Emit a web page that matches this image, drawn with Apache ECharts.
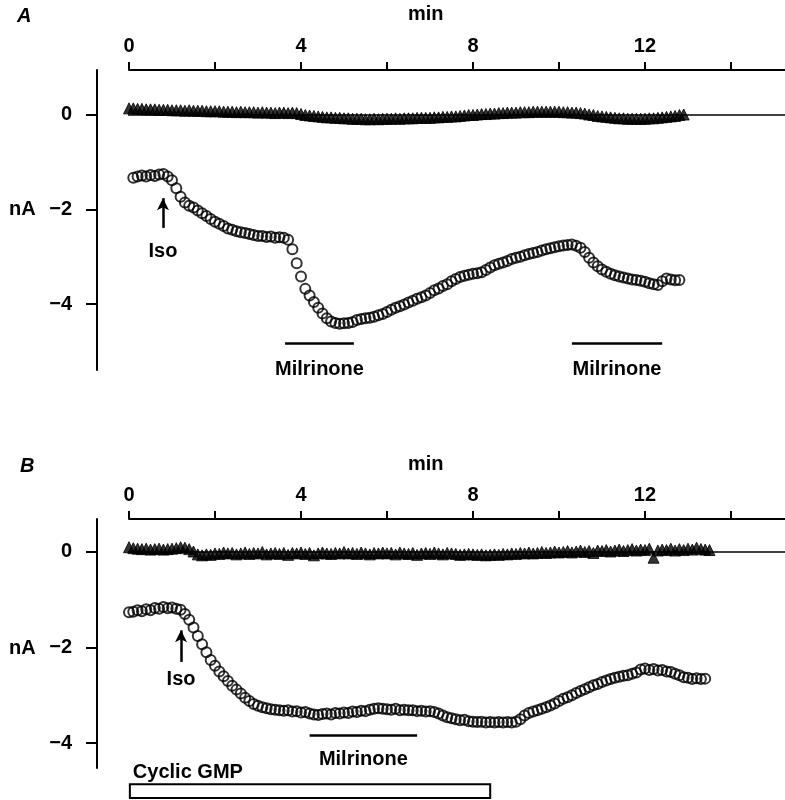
<!DOCTYPE html>
<html>
<head>
<meta charset="utf-8">
<script src="https://cdn.jsdelivr.net/npm/echarts@6/dist/echarts.min.js"></script>
<style>
html, body { margin: 0; padding: 0; background: #fff; }
#chart { width: 785px; height: 800px; }
</style>
</head>
<body>
<div id="chart"></div>
<script>
// sampling: one point every 0.1 min
const stepMin = 0.1;

// panel A, current at -50 mV (nA)
const circleStartA = 0.1;
const circlesA = [
  -1.33, -1.30, -1.28, -1.30, -1.27, -1.29, -1.26, -1.25, -1.30,
  -1.38, -1.55, -1.73, -1.85, -1.92, -1.96, -2.02, -2.08, -2.14, -2.20,
  -2.26, -2.30, -2.35, -2.40, -2.43, -2.46, -2.48, -2.50, -2.52, -2.54,
  -2.56, -2.56, -2.58, -2.57, -2.60, -2.59, -2.60, -2.64, -2.84, -3.14,
  -3.42, -3.68, -3.82, -3.96, -4.08, -4.20, -4.30, -4.37, -4.40, -4.42,
  -4.41, -4.40, -4.38, -4.34, -4.32, -4.30, -4.29, -4.27, -4.24, -4.21,
  -4.17, -4.12, -4.08, -4.05, -4.01, -3.97, -3.93, -3.89, -3.86, -3.82,
  -3.77, -3.71, -3.67, -3.62, -3.58, -3.52, -3.47, -3.43, -3.40, -3.38,
  -3.36, -3.35, -3.33, -3.28, -3.23, -3.18, -3.15, -3.12, -3.09, -3.05,
  -3.02, -3.00, -2.97, -2.94, -2.92, -2.90, -2.87, -2.84, -2.82, -2.80,
  -2.78, -2.76, -2.75, -2.74, -2.77, -2.81, -2.90, -3.02, -3.12, -3.20,
  -3.27, -3.32, -3.36, -3.39, -3.42, -3.44, -3.46, -3.48, -3.49, -3.51,
  -3.53, -3.56, -3.58, -3.60, -3.52, -3.46, -3.48, -3.50, -3.49
];
const triangleStartA = 0;
const trianglesA = [
  0.14, 0.14, 0.13, 0.13, 0.12, 0.12, 0.12, 0.11, 0.11, 0.11,
  0.10, 0.10, 0.10, 0.09, 0.10, 0.09, 0.09, 0.09, 0.08, 0.08,
  0.08, 0.08, 0.07, 0.07, 0.07, 0.06, 0.07, 0.06, 0.06, 0.06,
  0.05, 0.06, 0.05, 0.05, 0.04, 0.05, 0.05, 0.04, 0.05, 0.04,
  0.02, 0.00, -0.01, -0.02, -0.03, -0.04, -0.05, -0.05, -0.06, -0.06,
  -0.07, -0.07, -0.08, -0.08, -0.08, -0.09, -0.09, -0.08, -0.09, -0.08,
  -0.08, -0.08, -0.07, -0.08, -0.07, -0.07, -0.07, -0.06, -0.06, -0.06,
  -0.06, -0.05, -0.05, -0.04, -0.04, -0.03, -0.03, -0.02, -0.01, 0.00,
  0.00, 0.01, 0.02, 0.02, 0.03, 0.03, 0.04, 0.04, 0.05, 0.05,
  0.05, 0.06, 0.06, 0.06, 0.07, 0.07, 0.07, 0.07, 0.07, 0.07,
  0.07, 0.06, 0.06, 0.05, 0.05, 0.04, 0.03, 0.01, 0.00, -0.02,
  -0.03, -0.04, -0.05, -0.06, -0.07, -0.07, -0.08, -0.08, -0.08, -0.08,
  -0.08, -0.07, -0.07, -0.06, -0.05, -0.04, -0.03, -0.02, 0.00, 0.01
];

// panel B
const circleStartB = 0;
const circlesB = [
  -1.26, -1.25, -1.22, -1.24, -1.20, -1.22, -1.17, -1.19, -1.15, -1.18,
  -1.16, -1.19, -1.21, -1.30, -1.42, -1.58, -1.76, -1.93, -2.10, -2.26,
  -2.38, -2.50, -2.60, -2.70, -2.80, -2.88, -2.96, -3.05, -3.12, -3.18,
  -3.22, -3.25, -3.27, -3.29, -3.30, -3.31, -3.32, -3.31, -3.34, -3.33,
  -3.36, -3.35, -3.38, -3.40, -3.41, -3.39, -3.38, -3.40, -3.37, -3.38,
  -3.36, -3.37, -3.34, -3.35, -3.32, -3.33, -3.30, -3.28, -3.27, -3.28,
  -3.29, -3.30, -3.28, -3.31, -3.30, -3.31, -3.31, -3.33, -3.32, -3.34,
  -3.33, -3.35, -3.38, -3.42, -3.46, -3.48, -3.50, -3.52, -3.51, -3.54,
  -3.55, -3.56, -3.55, -3.57, -3.56, -3.57, -3.56, -3.57, -3.56, -3.57,
  -3.55, -3.50, -3.42, -3.37, -3.34, -3.31, -3.28, -3.25, -3.21, -3.17,
  -3.12, -3.07, -3.04, -3.00, -2.95, -2.91, -2.87, -2.83, -2.79, -2.76,
  -2.72, -2.69, -2.66, -2.63, -2.61, -2.59, -2.58, -2.55, -2.52, -2.46,
  -2.44, -2.47, -2.45, -2.48, -2.47, -2.50, -2.51, -2.55, -2.58, -2.62,
  -2.63, -2.66, -2.64, -2.66, -2.65
];
const triangleStartB = 0;
const trianglesB = [
  0.10, 0.08, 0.07, 0.06, 0.07, 0.05, 0.06, 0.07, 0.05, 0.06,
  0.07, 0.08, 0.10, 0.09, 0.06, 0.01, -0.05, -0.07, -0.05, -0.06,
  -0.03, -0.04, -0.01, -0.03, -0.02, -0.05, -0.03, -0.01, -0.04, -0.02,
  -0.03, 0.00, -0.05, -0.03, -0.02, -0.04, -0.02, -0.06, -0.02, -0.03,
  -0.01, -0.04, -0.02, -0.07, -0.03, -0.01, -0.03, -0.04, -0.02, -0.03,
  0.00, -0.03, -0.02, -0.04, -0.01, -0.03, -0.05, -0.02, -0.03, -0.01,
  -0.03, -0.02, -0.05, -0.01, -0.03, -0.04, -0.02, -0.06, -0.03, -0.02,
  -0.04, -0.01, -0.03, -0.05, -0.02, -0.03, -0.04, -0.06, -0.05, -0.04,
  -0.05, -0.06, -0.05, -0.07, -0.06, -0.05, -0.06, -0.04, -0.05, -0.03,
  -0.04, -0.02, -0.03, -0.01, -0.03, -0.02, 0.00, -0.02, -0.01, 0.01,
  -0.01, 0.00, 0.02, -0.01, 0.01, 0.03, 0.00, 0.02, -0.02, 0.03,
  0.02, 0.04, 0.01, 0.03, 0.05, 0.02, 0.04, 0.06, 0.03, 0.05,
  0.04, 0.07, -0.12, 0.03, 0.05, 0.04, 0.07, 0.03, 0.06, 0.04,
  0.07, 0.05, 0.09, 0.06, 0.05, 0.04
];

// axis ticks
const timeTicks = [0, 2, 4, 6, 8, 10, 12, 14];
const timeLabels = [0, 4, 8, 12];
const currentTicks = [0, -2, -4];

// drug applications (min) and where their bars sit (nA)
const isoA = { t: 0.79, from: -2.39, to: -1.76 };
const isoB = { t: 1.21, from: -2.30, to: -1.64 };
const milrinoneA = [[3.63, 5.23], [10.3, 12.4]];
const milrinoneAy = -4.83;
const milrinoneB = [[4.2, 6.7]];
const milrinoneBy = -3.83;
const cgmpB = [0.02, -4.86, 8.4, -5.15];

const FONT = 'Liberation Sans';
const TXT = { color: '#000', fontSize: 20, fontWeight: 'bold', fontFamily: FONT };
const X_MAX = 15.256;
const X_LEFT = -0.744; // where the y axis stands

function pts(start, vals) {
  return vals.map((v, i) => [+(start + i * stepMin).toFixed(2), v]);
}

function timeAxis(gi) {
  return {
    type: 'value', gridIndex: gi, position: 'top', min: 0, max: X_MAX,
    axisLine: { show: true, onZero: false, lineStyle: { color: '#000', width: 2 } },
    axisTick: { show: true, length: 8, customValues: timeTicks, lineStyle: { color: '#000', width: 2 } },
    axisLabel: Object.assign({ customValues: timeLabels, margin: 14 }, TXT),
    splitLine: { show: false }
  };
}

function currentAxis(gi, min, max) {
  return {
    type: 'value', gridIndex: gi, offset: 32, min: min, max: max,
    axisLine: { show: true, onZero: false, lineStyle: { color: '#000', width: 2 } },
    axisTick: { show: true, length: 11, customValues: currentTicks, lineStyle: { color: '#000', width: 2 } },
    axisLabel: Object.assign({
      customValues: currentTicks, margin: 25,
      formatter: v => String(v).replace('-', '\u2212')
    }, TXT),
    splitLine: { show: false }
  };
}

function baseline(gi, iso, isoGap, mil, milY, milGap) {
  const lines = [[
    { coord: [iso.t, iso.from], symbol: 'none',
      label: Object.assign({ show: true, formatter: 'Iso', position: 'start', distance: isoGap }, TXT) },
    { coord: [iso.t, iso.to], symbol: 'arrow', symbolSize: [9, 12] }
  ]];
  mil.forEach(r => lines.push([
    { coord: [r[0], milY], symbol: 'none',
      label: Object.assign({ show: true, formatter: 'Milrinone', position: 'insideMiddleBottom', distance: milGap }, TXT) },
    { coord: [r[1], milY], symbol: 'none' }
  ]));
  return {
    type: 'line', xAxisIndex: gi, yAxisIndex: gi, clip: false, silent: true,
    data: [[X_LEFT, 0], [X_MAX, 0]], symbol: 'none',
    lineStyle: { color: '#000', width: 1.5 },
    markLine: {
      silent: true, label: { show: false },
      lineStyle: { color: '#000', width: 2.5, type: 'solid' },
      data: lines
    }
  };
}

function circles(gi, start, vals) {
  return {
    type: 'scatter', xAxisIndex: gi, yAxisIndex: gi, data: pts(start, vals),
    symbol: 'circle', symbolSize: 10,
    itemStyle: { color: 'rgba(255,255,255,0)', borderColor: '#000', borderWidth: 2 },
    z: 3
  };
}

function triangles(gi, start, vals) {
  return {
    type: 'scatter', xAxisIndex: gi, yAxisIndex: gi, data: pts(start, vals),
    symbol: 'triangle', symbolSize: 11,
    itemStyle: { color: '#000', borderColor: '#000', borderWidth: 1 },
    z: 3
  };
}

// open bar showing the cyclic GMP application, sits below the axis
const cgmpBar = {
  type: 'custom', xAxisIndex: 1, yAxisIndex: 1, clip: false, silent: true,
  data: [cgmpB],
  renderItem: (params, api) => {
    const p0 = api.coord([api.value(0), api.value(1)]);
    const p1 = api.coord([api.value(2), api.value(3)]);
    return {
      type: 'group',
      children: [
        { type: 'rect',
          shape: { x: p0[0], y: p0[1], width: p1[0] - p0[0], height: p1[1] - p0[1] },
          style: { fill: '#fff', stroke: '#000', lineWidth: 2 } },
        { type: 'text', x: p0[0] + 3, y: p0[1] - 2,
          style: { text: 'Cyclic GMP', fill: '#000', fontSize: 20, fontWeight: 'bold',
                   fontFamily: FONT, verticalAlign: 'bottom', align: 'left' } }
      ]
    };
  }
};

const chart = echarts.init(document.getElementById('chart'));
chart.setOption({
  animation: false,
  backgroundColor: '#fff',
  grid: [
    { left: 129, right: 0, top: 70, height: 300 },
    { left: 129, right: 0, top: 519, height: 249 }
  ],
  xAxis: [timeAxis(0), timeAxis(1)],
  yAxis: [currentAxis(0, -5.397, 0.952), currentAxis(1, -4.52, 0.69)],
  graphic: [
    { type: 'text', left: 17, top: 6, style: Object.assign({ text: 'A', fontStyle: 'italic' }, TXT, { fill: '#000' }) },
    { type: 'text', left: 20, top: 456, style: Object.assign({ text: 'B', fontStyle: 'italic' }, TXT, { fill: '#000' }) },
    { type: 'text', left: 408, top: 4, style: Object.assign({ text: 'min' }, TXT, { fill: '#000' }) },
    { type: 'text', left: 408, top: 454, style: Object.assign({ text: 'min' }, TXT, { fill: '#000' }) },
    { type: 'text', left: 9, top: 199, style: Object.assign({ text: 'nA' }, TXT, { fill: '#000' }) },
    { type: 'text', left: 9, top: 638, style: Object.assign({ text: 'nA' }, TXT, { fill: '#000' }) }
  ],
  series: [
    baseline(0, isoA, 14, milrinoneA, milrinoneAy, 16),
    triangles(0, triangleStartA, trianglesA),
    circles(0, circleStartA, circlesA),
    baseline(1, isoB, 8, milrinoneB, milrinoneBy, 14),
    triangles(1, triangleStartB, trianglesB),
    circles(1, circleStartB, circlesB),
    cgmpBar
  ]
});
</script>
</body>
</html>
